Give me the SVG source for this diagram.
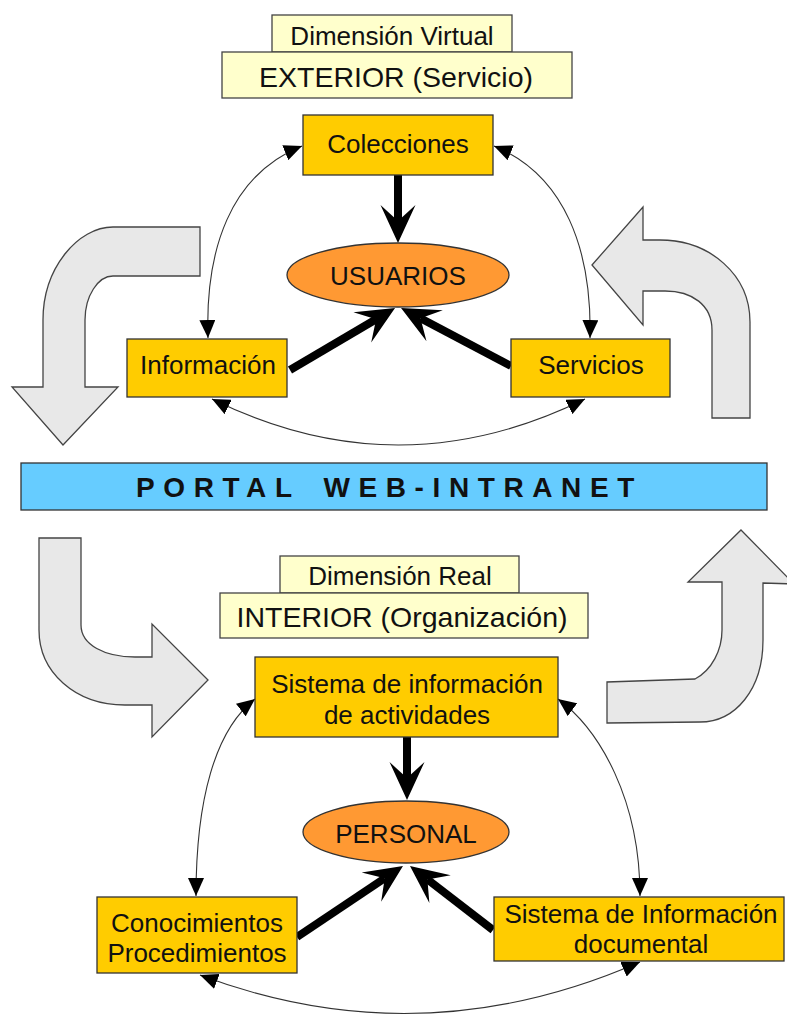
<svg xmlns="http://www.w3.org/2000/svg" width="787" height="1016" viewBox="0 0 787 1016">
  <defs>
    <style>
      .lbl { font-family: "Liberation Sans", Arial, sans-serif; fill: #111; text-anchor: middle; }
      .t26 { font-size: 26px; }
      .t28 { font-size: 28.5px; }
      .pale { fill: #FFFFCC; stroke: #444; stroke-width: 1.3; }
      .box { fill: #FFCC00; stroke: #333; stroke-width: 1.3; }
      .oval { fill: #FF9933; stroke: #333; stroke-width: 1.3; }
      .bend { fill: #E8E8E8; stroke: #444; stroke-width: 1.3; stroke-linejoin: miter; }
      .thin { fill: none; stroke: #333; stroke-width: 1.1; marker-start: url(#tip); marker-end: url(#tip); }
      .thick { fill: none; stroke: #000; stroke-width: 8; marker-end: url(#bigtip); }
    </style>
    <!-- small filled head for the thin two-way links -->
    <marker id="tip" markerUnits="userSpaceOnUse" viewBox="0 0 18 16" markerWidth="18" markerHeight="16" refX="18" refY="8" orient="auto-start-reverse">
      <path d="M0,0 L18,8 L0,16 Z" fill="#000"/>
    </marker>
    <!-- large notched head for the heavy flows; the line stops at the notch -->
    <marker id="bigtip" markerUnits="userSpaceOnUse" viewBox="-17 -18 40 36" markerWidth="40" markerHeight="36" refX="0" refY="0" orient="auto" overflow="visible">
      <path d="M22,0 L-16,-17.5 L0,0 L-16,17.5 Z" fill="#000"/>
    </marker>
  </defs>

  <rect width="787" height="1016" fill="#FFFFFF"/>

  <!-- large grey bent arrows -->
  <g id="bend-arrows">
    <path class="bend" d="M200,227 L113,227 C78,227 43,268 43,320 L43,387 L12,387 L63,445 L118,387 L85,387 L85,320 C85,296 98,276 113,276 L200,276 Z"/>
    <path class="bend" d="M592,265 L643,207 L643,240 L660,240 C710,240 750,275 750,322 L750,418 L712,418 L712,330 C712,305 692,291 665,291 L643,291 L643,325 Z"/>
    <path class="bend" d="M39,538 L81,538 L81,625 C81,645 105,657 135,657 L152,657 L152,624 L208,680 L152,737 L152,705 L125,705 C75,705 39,672 39,630 Z"/>
    <path class="bend" d="M741,530 L794,584 L763,583 L763,640 C763,690 735,722 700,722 L607,723 L607,682 L695,679 C712,670 722,650 722,630 L722,582 L688,582 Z"/>
  </g>

  <!-- connectors -->
  <g id="connectors">
    <path class="thin" d="M208,338 C205,250 230,175 302,146"/>
    <path class="thin" d="M590,338 C592,250 565,175 494,146"/>
    <path class="thin" d="M212,399 Q398,491 585,399"/>
    <path class="thin" d="M196,896 C196,800 215,730 255,699"/>
    <path class="thin" d="M640,896 C640,800 600,730 558,699"/>
    <path class="thin" d="M200,975 Q420,1058 640,962"/>

    <path class="thick" d="M398,175 L398,221"/>
    <path class="thick" d="M290,370 L376.1,319.2"/>
    <path class="thick" d="M511,366 L420.5,318.3"/>
    <path class="thick" d="M407,737 L407,778"/>
    <path class="thick" d="M297,937 L384.7,878.2"/>
    <path class="thick" d="M493,930 L427.4,879.4"/>
  </g>

  <!-- exterior / virtual side -->
  <g id="dim-virtual">
    <rect class="pale" x="272" y="15" width="240" height="37"/>
    <text class="lbl t26" x="392" y="45">Dimensión Virtual</text>
  </g>
  <g id="exterior">
    <rect class="pale" x="222" y="52" width="350" height="46"/>
    <text class="lbl t28" x="396" y="87">EXTERIOR (Servicio)</text>
  </g>
  <g id="colecciones">
    <rect class="box" x="303" y="115" width="190" height="60"/>
    <text class="lbl t26" x="398" y="153">Colecciones</text>
  </g>
  <g id="usuarios">
    <ellipse class="oval" cx="398" cy="275" rx="111" ry="32"/>
    <text class="lbl t26" x="398" y="285">USUARIOS</text>
  </g>
  <g id="informacion">
    <rect class="box" x="127" y="339" width="160" height="58"/>
    <text class="lbl t26" x="208" y="374">Información</text>
  </g>
  <g id="servicios">
    <rect class="box" x="511" y="339" width="159" height="58"/>
    <text class="lbl t26" x="591" y="374">Servicios</text>
  </g>

  <!-- portal band -->
  <g id="portal">
    <rect x="21" y="463" width="746" height="47" fill="#66CCFF" stroke="#333" stroke-width="1.3"/>
    <text x="136" y="497" font-family="'Liberation Sans', Arial, sans-serif" font-size="28" font-weight="bold" letter-spacing="8.6" word-spacing="7" fill="#111">PORTAL WEB-INTRANET</text>
  </g>

  <!-- interior / real side -->
  <g id="dim-real">
    <rect class="pale" x="280" y="556" width="239" height="37"/>
    <text class="lbl t26" x="400" y="585">Dimensión Real</text>
  </g>
  <g id="interior">
    <rect class="pale" x="220" y="593" width="368" height="45"/>
    <text class="lbl t28" x="402" y="627">INTERIOR (Organización)</text>
  </g>
  <g id="sistema-actividades">
    <rect class="box" x="255" y="657" width="303" height="80"/>
    <text class="lbl t26" x="407" y="693">Sistema de información</text>
    <text class="lbl t26" x="407" y="724">de actividades</text>
  </g>
  <g id="personal">
    <ellipse class="oval" cx="406" cy="832" rx="103" ry="31"/>
    <text class="lbl t26" x="406" y="843">PERSONAL</text>
  </g>
  <g id="conocimientos">
    <rect class="box" x="97" y="897" width="200" height="76"/>
    <text class="lbl t26" x="197" y="932">Conocimientos</text>
    <text class="lbl t26" x="197" y="962">Procedimientos</text>
  </g>
  <g id="sistema-documental">
    <rect class="box" x="494" y="897" width="290" height="64"/>
    <text class="lbl t26" x="641" y="923">Sistema de Información</text>
    <text class="lbl t26" x="641" y="953">documental</text>
  </g>
</svg>
